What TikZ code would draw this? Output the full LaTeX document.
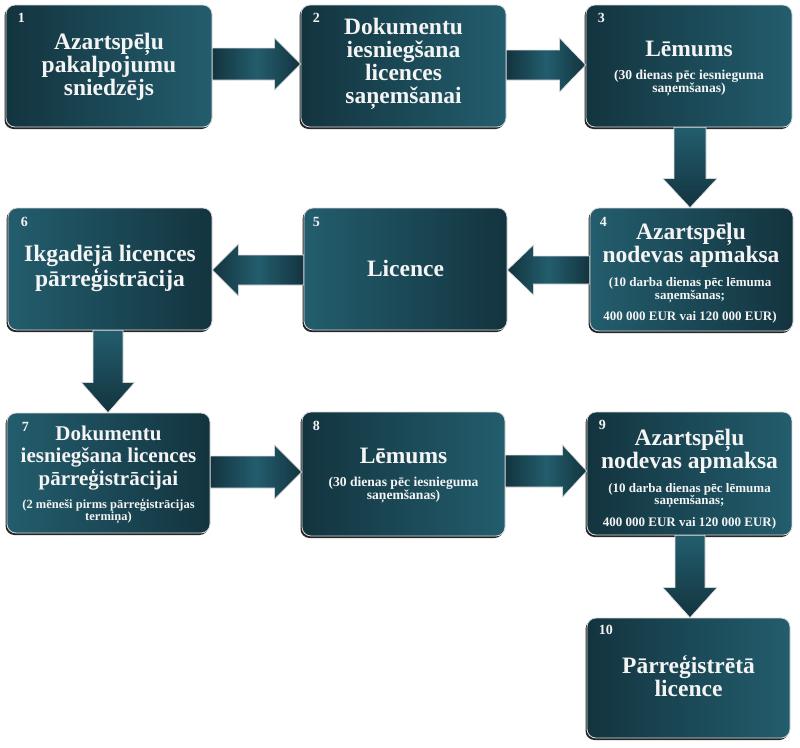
\documentclass[tikz,border=0pt]{standalone}
\usepackage{fontspec}
\setmainfont{Liberation Serif}
\usetikzlibrary{calc,shadows}
\definecolor{tealL}{HTML}{235D6D}
\definecolor{tealD}{HTML}{13343F}
\definecolor{txt}{HTML}{F4F4F4}
\tikzset{
  box/.style={rectangle, rounded corners=9pt, draw=black!15, line width=0.8pt, inner sep=0pt,
    drop shadow={shadow xshift=-1.5pt, shadow yshift=-2pt, opacity=0.85, fill=black}},
  dl/.style={left color=tealD, right color=tealL},
  ld/.style={left color=tealL, right color=tealD},
  ttl/.style={text=txt, font=\bfseries\fontsize{23.5}{23}\selectfont, align=center, inner sep=0pt},
  ttls/.style={text=txt, font=\bfseries\fontsize{21}{22.5}\selectfont, align=center, inner sep=0pt},
  subt/.style={text=txt, font=\bfseries\fontsize{13}{12.5}\selectfont, align=center, inner sep=0pt},
  subl/.style={text=txt, font=\bfseries\fontsize{13.6}{13}\selectfont, align=center, inner sep=0pt},
  num/.style={text=txt, font=\bfseries\fontsize{14}{14}\selectfont, inner sep=0pt, anchor=base west},
  barrowh/.style={draw=black!12, line width=0.6pt, left color=tealD, right color=tealD, middle color=tealL},
  barrowv/.style={draw=black!12, line width=0.6pt, top color=tealL, bottom color=tealD}
}
% #1 start anchor, #2 tip anchor, #3 y centre, #4 shaft half, #5 head half, #6 head length (signed)
\newcommand\flowH[6]{%
  \coordinate (hs) at (#1 |- 0,#3);
  \coordinate (ht) at (#2 |- 0,#3);
  \path[barrowh] ($(hs)+(0,{-(#4)})$) -- ($(ht)+({-(#6)},{-(#4)})$) -- ($(ht)+({-(#6)},{-(#5)})$)
     -- (ht) -- ($(ht)+({-(#6)},#5)$) -- ($(ht)+({-(#6)},#4)$) -- ($(hs)+(0,#4)$) -- cycle;}
% #1 start anchor, #2 tip anchor, #3 x centre, #4 shaft half, #5 head half, #6 head length
\newcommand\flowV[6]{%
  \coordinate (vs) at (#3,0 |- #1);
  \coordinate (vt) at (#3,0 |- #2);
  \path[barrowv] ($(vs)+({-(#4)},0)$) -- ($(vt)+({-(#4)},{-(#6)})$) -- ($(vt)+({-(#5)},{-(#6)})$)
     -- (vt) -- ($(vt)+(#5,{-(#6)})$) -- ($(vt)+(#4,{-(#6)})$) -- ($(vs)+(#4,0)$) -- cycle;}
\begin{document}
\begin{tikzpicture}[x=1pt, y=-1pt]
\fill[white] (0,0) rectangle (800,747);
\useasboundingbox (0,0) rectangle (800,747);

% boxes
\node[box, dl, minimum width=206pt, minimum height=122pt] (b1) at (109,66) {};
\node[box, dl, minimum width=205pt, minimum height=122pt] (b2) at (403.5,66) {};
\node[box, dl, minimum width=206pt, minimum height=122pt] (b3) at (689,66) {};
\node[box, ld, minimum width=203pt, minimum height=123pt] (b4) at (691.5,269.5) {};
\node[box, ld, minimum width=203pt, minimum height=122pt] (b5) at (405.5,269) {};
\node[box, ld, minimum width=204pt, minimum height=122pt] (b6) at (110,269) {};
\node[box, ld, minimum width=203pt, minimum height=120pt] (b7) at (108.5,473) {};
\node[box, dl, minimum width=203pt, minimum height=124pt] (b8) at (403.5,474) {};
\node[box, dl, minimum width=205pt, minimum height=123pt] (b9) at (689.5,473.5) {};
\node[box, dl, minimum width=203pt, minimum height=120pt] (b10) at (688.5,678) {};

% arrows
\flowH{b1.east}{b2.west}{64}{16}{26}{26}
\flowH{b2.east}{b3.west}{65}{15}{27}{26}
\flowV{b3.south}{b4.north}{690}{16}{27}{29}
\flowH{b4.west}{b5.east}{270}{14}{25}{-26}
\flowH{b5.west}{b6.east}{270}{15}{26}{-26}
\flowV{b6.south}{b7.north}{108}{15}{26.5}{30}
\flowH{b7.east}{b8.west}{472}{16}{27}{27}
\flowH{b8.east}{b9.west}{471}{16}{26}{24}
\flowV{b9.south}{b10.north}{690}{15}{27}{30}

% numbers
\node[num] (n1) at ($(b1.north west)+(12,18)$) {1};
\node[num] (n2) at ($(b2.north west)+(12,18)$) {2};
\node[num] (n3) at ($(b3.north west)+(12,18)$) {3};
\node[num] (n4) at ($(b4.north west)+(10,19)$) {4};
\node[num] (n5) at ($(b5.north west)+(9,19)$) {5};
\node[num] (n6) at ($(b6.north west)+(13,19)$) {6};
\node[num] (n7) at ($(b7.north west)+(15,19)$) {7};
\node[num] (n8) at ($(b8.north west)+(11,19)$) {8};
\node[num] (n9) at ($(b9.north west)+(12,18)$) {9};
\node[num] (n10) at ($(b10.north west)+(12,17)$) {10};

% texts
\node[ttl] (t1) at (109,67) {Azartspēļu\\pakalpojumu\\sniedzējs};
\node[ttl] (t2) at (403.5,63.5) {Dokumentu\\iesniegšana\\licences\\saņemšanai};
\node[ttl] (t3) at (689,48.5) {Lēmums};
\node[subl] (s3) at (689,83.5) {(30 dienas pēc iesnieguma\\saņemšanas)};
\node[ttl] (t4) at (691,245) {Azartspēļu\\nodevas apmaksa};
\node[subt] (s4) at (690,300.5) {(10 darba dienas pēc lēmuma\\saņemšanas;\\[9pt]400 000 EUR vai 120 000 EUR)};
\node[ttl] (t5) at (405.5,268) {Licence};
\node[ttl] (t6) at (110,268.5) {Ikgadējā licences\\pārreģistrācija};
\node[ttls] (t7) at (108.5,458) {Dokumentu\\iesniegšana licences\\pārreģistrācijai};
\node[subt, font=\bfseries\fontsize{12.5}{12}\selectfont] (s7) at (108.5,511.5) {(2 mēneši pirms pārreģistrācijas\\termiņa)};
\node[ttl] (t8) at (403.5,455.5) {Lēmums};
\node[subl] (s8) at (403.5,490.5) {(30 dienas pēc iesnieguma\\saņemšanas)};
\node[ttl] (t9) at (689.5,451) {Azartspēļu\\nodevas apmaksa};
\node[subt] (s9) at (689.5,506) {(10 darba dienas pēc lēmuma\\saņemšanas;\\[9pt]400 000 EUR vai 120 000 EUR)};
\node[ttl] (t10) at (688.5,676) {Pārreģistrētā\\licence};
\end{tikzpicture}
\end{document}
